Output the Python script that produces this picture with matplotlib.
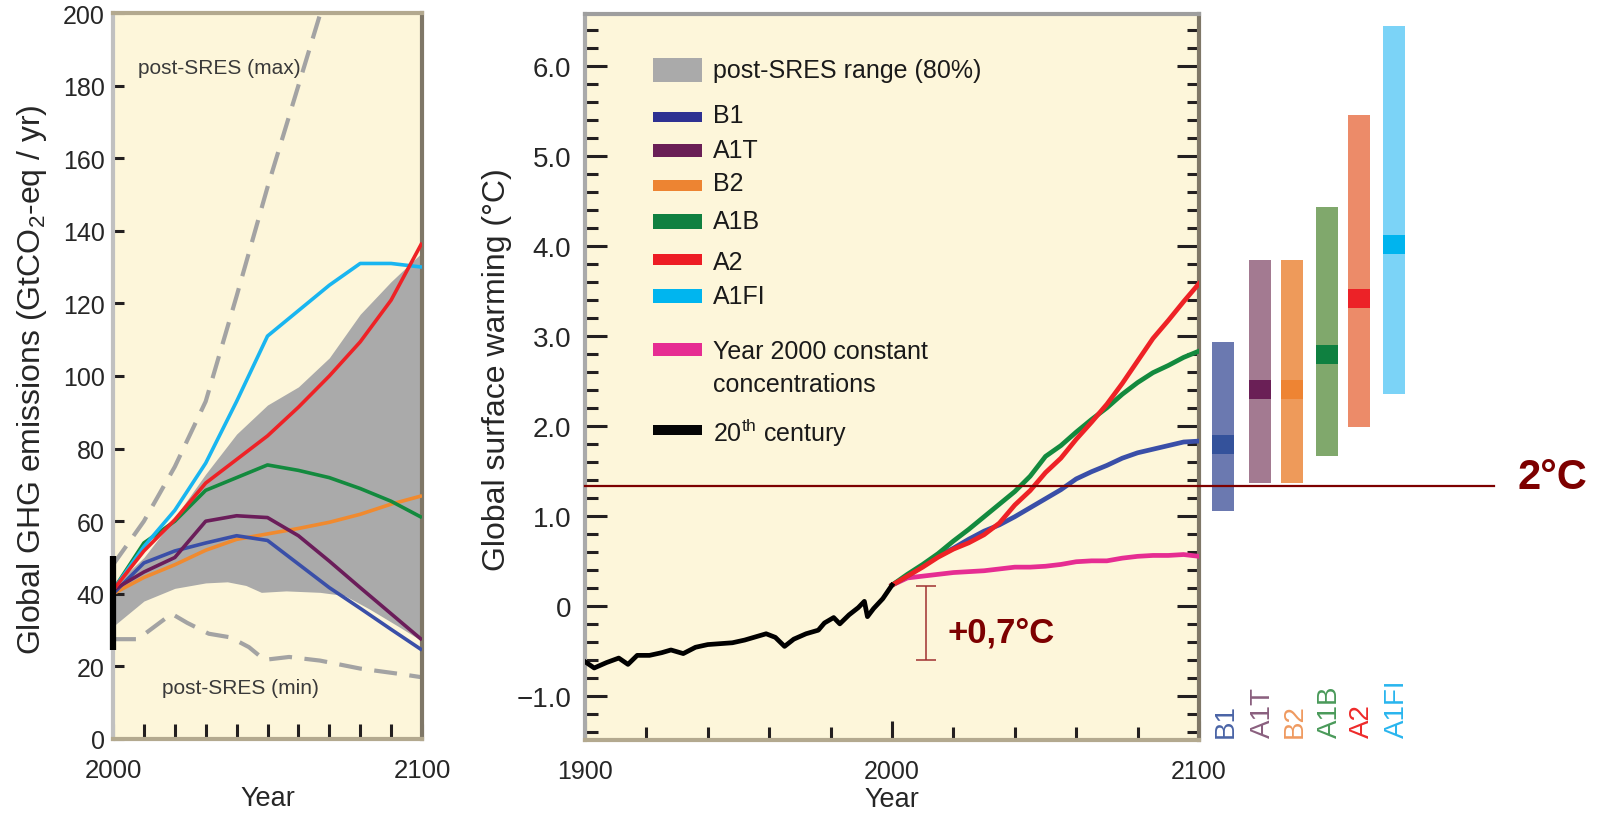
import matplotlib
matplotlib.use("Agg")
import matplotlib.pyplot as plt
from matplotlib.ticker import MultipleLocator, FixedLocator, FuncFormatter
from matplotlib.patches import Rectangle

plt.rcParams['font.family'] = ['Liberation Sans', 'DejaVu Sans']
plt.rcParams['mathtext.fontset'] = 'custom'
plt.rcParams['mathtext.rm'] = 'Liberation Sans'
plt.rcParams['mathtext.it'] = 'Liberation Sans:italic'

CREAM = '#fdf6da'
TXT = '#262626'
DARKRED = '#7d0000'

# ---------------- left panel data (GtCO2-eq / yr) ----------------
em_years = [2000, 2010, 2020, 2030, 2040, 2050, 2060, 2070, 2080, 2090, 2100]
em_B1 = [40, 48.5, 51.8, 54, 56, 54.7, 48.2, 41.7, 36, 30.2, 24.5]
em_A1T = [41, 46, 50, 60, 61.5, 61, 56, 49, 41.7, 34.5, 27.3]
em_B2 = [40, 44.5, 48, 52, 55, 56.5, 58, 59.7, 61.9, 64.7, 67]
em_A1B = [41, 54, 60, 68.5, 72, 75.5, 74, 72, 69, 65.5, 61]
em_A2 = [41, 51.8, 60.4, 70.5, 77, 83.5, 91.4, 100, 109.4, 120.9, 136.7]
em_A1FI = [41, 53, 63, 76, 93, 111, 118, 125, 131, 131, 130]
range_upper = [42, 50, 61, 73, 84, 92, 97, 105, 117, 126, 134]

range_low_years = [2000, 2010, 2020, 2030, 2037, 2043, 2048, 2056, 2067, 2075, 2083, 2092, 2100]
range_lower = [31, 38, 41.5, 43, 43.3, 42.3, 40.4, 40.8, 40.4, 39.5, 35.8, 31.2, 27]

max_years = [2000, 2010, 2020, 2030, 2040, 2050, 2060, 2070]
max_vals = [48, 60, 75, 93, 122, 152, 180, 208]
min_years = [2000, 2008, 2019, 2024, 2031, 2038, 2044, 2049, 2057, 2067, 2080, 2093, 2100]
min_vals = [27.5, 27.5, 34.5, 32, 29, 28, 25.3, 21.8, 22.6, 21.6, 19.4, 17.9, 17]
em_2000_range = [24.5, 50.5]

# ---------------- middle panel data (deg C) ----------------
hist_years = [1900, 1903, 1907, 1911, 1914, 1917, 1921, 1925, 1928, 1932, 1936, 1940,
              1944, 1948, 1952, 1956, 1959, 1962, 1965, 1968, 1972, 1976, 1978, 1981,
              1983, 1986, 1989, 1991, 1992, 1994, 1997, 2000]
hist_vals = [-0.62, -0.69, -0.63, -0.58, -0.65, -0.55, -0.55, -0.52, -0.49, -0.53, -0.46, -0.43,
             -0.42, -0.41, -0.38, -0.34, -0.31, -0.35, -0.45, -0.37, -0.31, -0.27, -0.19, -0.13,
             -0.20, -0.10, -0.02, 0.05, -0.12, -0.03, 0.08, 0.23]

proj_years = [2000, 2005, 2010, 2015, 2020, 2025, 2030, 2035, 2040, 2045, 2050,
              2055, 2060, 2065, 2070, 2075, 2080, 2085, 2090, 2095, 2100]
t_A2 = [0.23, 0.33, 0.43, 0.54, 0.63, 0.70, 0.79, 0.92, 1.12, 1.28, 1.48,
        1.64, 1.85, 2.04, 2.24, 2.47, 2.72, 2.97, 3.17, 3.38, 3.58]
t_A1B = [0.23, 0.35, 0.46, 0.58, 0.72, 0.85, 0.99, 1.13, 1.27, 1.44, 1.66,
         1.78, 1.93, 2.07, 2.20, 2.35, 2.48, 2.59, 2.67, 2.76, 2.83]
t_B1 = [0.23, 0.33, 0.44, 0.55, 0.64, 0.74, 0.83, 0.90, 0.99, 1.09, 1.19,
        1.29, 1.41, 1.49, 1.56, 1.64, 1.70, 1.74, 1.78, 1.82, 1.83]
t_const = [0.23, 0.31, 0.33, 0.35, 0.37, 0.38, 0.39, 0.41, 0.43, 0.43, 0.44,
           0.46, 0.49, 0.50, 0.50, 0.53, 0.55, 0.56, 0.56, 0.57, 0.55]

# 2090-2099 ranges and best estimates
bar_names = ['B1', 'A1T', 'B2', 'A1B', 'A2', 'A1FI']
bar_low = [1.05, 1.36, 1.36, 1.67, 1.99, 2.35]
bar_high = [2.93, 3.84, 3.84, 4.43, 5.45, 6.44]
bar_best = [1.79, 2.40, 2.40, 2.79, 3.41, 4.01]

two_deg_level = 1.33
obs_warming = [-0.60, 0.22]

# ---------------- styles / layout ----------------
line_col = {'B1': '#3a4fa8', 'A1T': '#6b1d5a', 'B2': '#f08a2f', 'A1B': '#138a3e',
            'A2': '#ee2226', 'A1FI': '#19b5f0'}
bar_light = ['#6b79b0', '#a37a91', '#ee9a5a', '#80a86c', '#ec8b69', '#7bd3f7']
bar_dark = ['#34529b', '#6a1f56', '#ee8433', '#0f8040', '#ec2227', '#00b4ee']
bar_txt = ['#4a64a6', '#8a5f7e', '#ef9a60', '#4a9a5a', '#ee2a2a', '#29b5ee']
bar_x = [2107.8, 2119.9, 2130.3, 2141.7, 2152.2, 2163.6]
bar_w = 7.3

fig = plt.figure(figsize=(15.97, 8.2), dpi=100, facecolor='white')

# ================= left panel =================
ax1 = fig.add_axes([113 / 1597, 80 / 820, 309 / 1597, 726 / 820])
ax1.set_facecolor(CREAM)
ax1.set_xlim(2000, 2100)
ax1.set_ylim(0, 200)

ax1.fill_between(em_years, [0] * len(em_years), range_upper, color='#aaaaaa', lw=0, zorder=1)
ax1.fill_between(range_low_years, [0] * len(range_low_years), range_lower, color=CREAM, lw=0, zorder=1.1)
ax1.plot(max_years, max_vals, color='#a3a3a3', lw=3, dashes=(5.5, 3), zorder=2)
ax1.plot(min_years, min_vals, color='#a3a3a3', lw=3, dashes=(5.5, 3), zorder=2)

for name, vals in [('B2', em_B2), ('B1', em_B1), ('A1T', em_A1T), ('A1B', em_A1B),
                   ('A1FI', em_A1FI), ('A2', em_A2)]:
    ax1.plot(em_years, vals, color=line_col[name], lw=2.6, zorder=3, solid_capstyle='butt')

ax1.plot([2000, 2000], em_2000_range, color='black', lw=4.5, zorder=6, clip_on=False,
         solid_capstyle='butt')

ax1.text(2034.3, 185, 'post-SRES (max)', fontsize=15, color='#3a3a3a', ha='center', va='center')
ax1.text(2041.4, 14.2, 'post-SRES (min)', fontsize=15, color='#3a3a3a', ha='center', va='center')

ax1.xaxis.set_major_locator(FixedLocator([2000, 2100]))
ax1.xaxis.set_minor_locator(MultipleLocator(10))
ax1.yaxis.set_major_locator(MultipleLocator(20))
ax1.tick_params(axis='x', which='both', direction='in', length=11, width=2.2, color='#231f20',
                labelsize=18.5, pad=14, labelcolor=TXT)
ax1.tick_params(axis='y', direction='in', length=8, width=2.2, color='#231f20',
                labelsize=18, pad=6, labelcolor=TXT)
ax1.spines['left'].set_color('#c0c0c0')
ax1.spines['top'].set_color('#b3a98f')
ax1.spines['right'].set_color('#7f7767')
ax1.spines['bottom'].set_color('#b3a98f')
for s in ax1.spines.values():
    s.set_linewidth(3)
ax1.set_xlabel('Year', fontsize=19.5, color=TXT, labelpad=2)
ax1.set_ylabel('Global GHG emissions (GtCO$_2$-eq / yr)', fontsize=23, color=TXT, va='center')
ax1.yaxis.set_label_coords(-0.262, 0.497)

# ================= middle panel =================
ax2 = fig.add_axes([585 / 1597, 79 / 820, 614 / 1597, 726 / 820])
ax2.set_facecolor(CREAM)
ax2.set_xlim(1900, 2100)
ax2.set_ylim(-1.49, 6.574)

ax2.plot(proj_years, t_const, color='#e62d92', lw=3.4, zorder=3)
ax2.plot(proj_years, t_B1, color=line_col['B1'], lw=3.4, zorder=3)
ax2.plot(proj_years, t_A1B, color=line_col['A1B'], lw=3.4, zorder=3)
ax2.plot(proj_years, t_A2, color=line_col['A2'], lw=3.4, zorder=3)
ax2.plot(hist_years, hist_vals, color='black', lw=3.4, zorder=4)

# 2 degree line, extended to the right of the panel
ax2.plot([1900, 2196], [two_deg_level, two_deg_level], color=DARKRED, lw=1.6, zorder=5,
         clip_on=False)
ax2.text(2203.7, 1.31, '2°C', fontsize=30, fontweight='bold', color=DARKRED,
         ha='left', va='baseline')

# observed warming bracket
ax2.errorbar([2011], [(obs_warming[0] + obs_warming[1]) / 2],
             yerr=[(obs_warming[1] - obs_warming[0]) / 2], color='#a03030', lw=1.1,
             capsize=7, capthick=1.1, zorder=5)
ax2.text(2018, -0.40, '+0,7°C', fontsize=25, fontweight='bold', color=DARKRED,
         ha='left', va='baseline')

# range bars for 2090-2099
for i, name in enumerate(bar_names):
    ax2.bar(bar_x[i], bar_high[i] - bar_low[i], bottom=bar_low[i], width=bar_w,
            color=bar_light[i], clip_on=False, zorder=2)
    ax2.bar(bar_x[i], 0.21, bottom=bar_best[i] - 0.105, width=bar_w,
            color=bar_dark[i], clip_on=False, zorder=2.1)
    ax2.text(bar_x[i] + 0.8, -1.46, name, rotation=90, fontsize=20, color=bar_txt[i],
             ha='center', va='bottom', clip_on=False)

# legend, drawn by hand
leg_labels = ['post-SRES range (80%)', 'B1', 'A1T', 'B2', 'A1B', 'A2', 'A1FI',
              'Year 2000 constant\nconcentrations', '20$^{\\mathrm{th}}$ century']
leg_colors = ['#aaaaaa', '#2e3192', '#6a1f56', '#ed8432', '#108040', '#ed1c24', '#00b5ef',
              '#e62d92', '#050505']
leg_y = [5.95, 5.43, 5.06, 4.67, 4.27, 3.85, 3.44, 2.85, 1.95]
leg_h = [0.27, 0.11, 0.15, 0.12, 0.16, 0.12, 0.15, 0.15, 0.11]
leg_text_y = [5.95, 5.45, 5.06, 4.70, 4.27, 3.82, 3.44, 2.645, 1.93]
for lab, col, y, h, ty in zip(leg_labels, leg_colors, leg_y, leg_h, leg_text_y):
    ax2.add_patch(Rectangle((1922.1, y - h / 2), 16.1, h, color=col, lw=0, zorder=6))
    ax2.text(1941.7, ty, lab, fontsize=18, color='#1a1a1a', ha='left', va='center',
             linespacing=1.45, zorder=6)

ax2.xaxis.set_major_locator(MultipleLocator(100))
ax2.xaxis.set_minor_locator(MultipleLocator(20))
ax2.yaxis.set_major_locator(FixedLocator([-1, 0, 1, 2, 3, 4, 5, 6]))
ax2.yaxis.set_minor_locator(MultipleLocator(0.2))
ax2.yaxis.set_major_formatter(FuncFormatter(
    lambda v, p: '0' if abs(v) < 1e-9 else f'{v:.1f}'.replace('-', '\u2212')))
ax2.tick_params(axis='x', which='major', direction='in', length=14, width=2.2,
                color='#231f20', labelsize=18, pad=14, labelcolor=TXT)
ax2.tick_params(axis='x', which='minor', direction='in', length=9.5, width=2.2, color='#231f20')
ax2.tick_params(axis='y', which='major', direction='in', length=15.5, width=2.2,
                color='#231f20', labelsize=20, pad=10, labelcolor=TXT, right=True)
ax2.tick_params(axis='y', which='minor', direction='in', length=9, width=2.2,
                color='#231f20', right=True)
ax2.spines['left'].set_color('#aaaaaa')
ax2.spines['top'].set_color('#9e9e9e')
ax2.spines['right'].set_color('#7f7767')
ax2.spines['bottom'].set_color('#b3a98f')
for s in ax2.spines.values():
    s.set_linewidth(3)
ax2.set_xlabel('Year', fontsize=19.5, color=TXT, labelpad=2)
ax2.set_ylabel('Global surface warming (°C)', fontsize=23, color=TXT, va='center')
ax2.yaxis.set_label_coords(-0.1433, 0.512)

fig.savefig('out.png', dpi=100, facecolor='white')
